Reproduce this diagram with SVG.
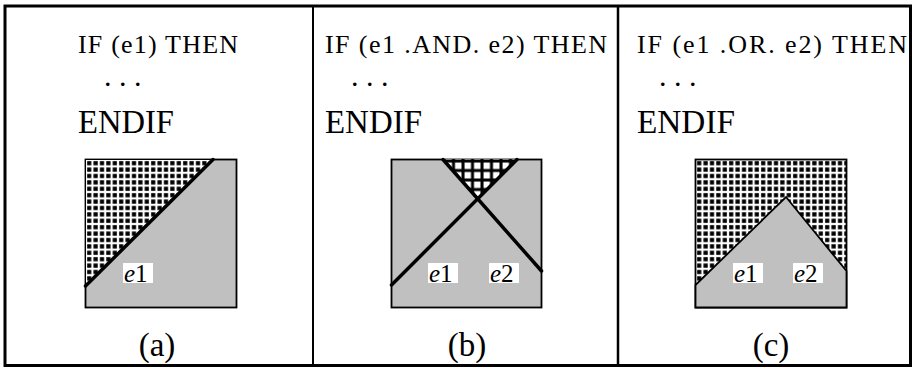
<svg xmlns="http://www.w3.org/2000/svg" width="913" height="369" viewBox="0 0 913 369">
<style>
.code{font-family:"Liberation Serif","Times New Roman",serif;font-size:26px;fill:#000}
.dot{font-family:"Liberation Serif","Times New Roman",serif;font-size:30px;fill:#000}
.end{font-family:"Liberation Serif","Times New Roman",serif;font-size:34px;fill:#000}
.cap{font-family:"Liberation Serif","Times New Roman",serif;font-size:33px;fill:#000;text-anchor:middle}
.lbl{font-family:"Liberation Serif","Times New Roman",serif;font-size:25px;fill:#000}
.sq{fill:#c0c0c0;stroke:#000;stroke-width:1.8}
.thick{fill:none;stroke:#000;stroke-width:3.5;stroke-linecap:round}
.box{fill:#fff}
</style>
<defs>
<pattern id="dots" patternUnits="userSpaceOnUse" width="6.4" height="6.4" x="86" y="160">
<rect width="6.4" height="6.4" fill="#fff"/>
<rect x="1.1" y="1.1" width="4.2" height="4.2" fill="#000"/>
</pattern>
<pattern id="dotsC" patternUnits="userSpaceOnUse" width="6.4" height="6.4" x="696" y="160">
<rect width="6.4" height="6.4" fill="#fff"/>
<rect x="1.1" y="1.1" width="4.2" height="4.2" fill="#000"/>
</pattern>
<pattern id="grid" patternUnits="userSpaceOnUse" width="9.5" height="9.5" x="443" y="160">
<rect width="9.5" height="9.5" fill="#000"/>
<rect x="2.5" y="2.5" width="6.5" height="6.5" fill="#fff"/>
</pattern>
</defs>
<rect width="913" height="369" fill="#fff"/>
<g id="frame">
<rect x="5" y="6" width="905.5" height="359.5" fill="none" stroke="#000" stroke-width="3"/>
<line x1="313" y1="6" x2="313" y2="366" stroke="#000" stroke-width="2"/>
<line x1="618" y1="6" x2="618" y2="366" stroke="#000" stroke-width="2.5"/>
</g>
<g id="panel-a">
<text class="code" x="78" y="53" textLength="160">IF (e1) THEN</text>
<text class="dot" x="104 119 134" y="86">...</text>
<text class="end" x="78" y="133" textLength="96" lengthAdjust="spacingAndGlyphs">ENDIF</text>
<rect class="sq" x="85.5" y="159.5" width="151" height="148"/>
<polygon points="86,160 213,160 86,286" fill="url(#dots)"/>
<line class="thick" x1="85.5" y1="286" x2="213" y2="159.5"/>
<rect class="box" x="123" y="263" width="30" height="20"/>
<text class="lbl" x="124" y="281.5"><tspan font-style="italic">e</tspan>1</text>
<text class="cap" x="157" y="356">(a)</text>
</g>
<g id="panel-b">
<text class="code" x="325" y="53" textLength="282">IF (e1 .AND. e2) THEN</text>
<text class="dot" x="351 366 381" y="86">...</text>
<text class="end" x="325" y="133" textLength="97" lengthAdjust="spacingAndGlyphs">ENDIF</text>
<rect class="sq" x="391.5" y="159.5" width="150" height="148"/>
<polygon points="443,159 517,159 477,199" fill="url(#grid)"/>
<line class="thick" x1="391.5" y1="285" x2="517" y2="159.5"/>
<line class="thick" x1="443" y1="159.5" x2="541.5" y2="271"/>
<rect class="box" x="428" y="263" width="30" height="20"/>
<text class="lbl" x="429" y="281.5"><tspan font-style="italic">e</tspan>1</text>
<rect class="box" x="489" y="263" width="30" height="20"/>
<text class="lbl" x="490" y="281.5"><tspan font-style="italic">e</tspan>2</text>
<text class="cap" x="467" y="356">(b)</text>
</g>
<g id="panel-c">
<text class="code" x="637" y="53" textLength="270">IF (e1 .OR. e2) THEN</text>
<text class="dot" x="659 674 689" y="86">...</text>
<text class="end" x="637" y="133" textLength="98" lengthAdjust="spacingAndGlyphs">ENDIF</text>
<rect x="695.5" y="159.5" width="151" height="148" fill="url(#dotsC)" stroke="#000" stroke-width="1.8"/>
<polygon class="sq" points="695.5,285 786,197 846.5,271 846.5,307.5 695.5,307.5"/>
<rect class="box" x="733" y="263" width="30" height="20"/>
<text class="lbl" x="734" y="281.5"><tspan font-style="italic">e</tspan>1</text>
<rect class="box" x="793" y="263" width="30" height="20"/>
<text class="lbl" x="794" y="281.5"><tspan font-style="italic">e</tspan>2</text>
<text class="cap" x="771" y="356">(c)</text>
</g>
</svg>
